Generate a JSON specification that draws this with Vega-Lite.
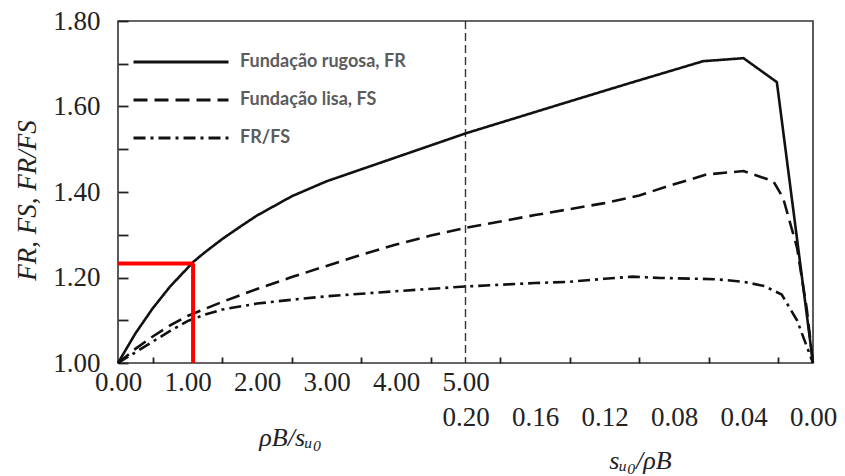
{
  "$schema": "https://vega.github.io/schema/vega-lite/v6.json",
  "width": 695,
  "height": 342,
  "autosize": {"type": "none"},
  "padding": {"left": 118, "top": 21, "right": 32, "bottom": 113},
  "background": "white",
  "config": {
    "view": {"stroke": "#333333", "strokeWidth": 1.6},
    "axis": {
      "grid": true,
      "gridColor": "#222222",
      "gridWidth": 1.8,
      "gridOpacity": 1,
      "domain": false,
      "ticks": false,
      "labelFont": "Liberation Serif",
      "labelFontSize": 27,
      "labelColor": "#222222",
      "labelOverlap": false,
      "labelFlush": false,
      "titleFont": "Liberation Serif",
      "titleFontSize": 27,
      "titleFontWeight": "normal",
      "titleFontStyle": "italic",
      "titleColor": "#222222"
    }
  },
  "datasets": {
    "curves": [
      {"u": 0, "v": 1.0, "series": "Fundação rugosa, FR"},
      {"u": 0.25, "v": 1.069, "series": "Fundação rugosa, FR"},
      {"u": 0.5, "v": 1.128, "series": "Fundação rugosa, FR"},
      {"u": 0.75, "v": 1.179, "series": "Fundação rugosa, FR"},
      {"u": 1.0, "v": 1.222, "series": "Fundação rugosa, FR"},
      {"u": 1.08, "v": 1.236, "series": "Fundação rugosa, FR"},
      {"u": 1.25, "v": 1.259, "series": "Fundação rugosa, FR"},
      {"u": 1.5, "v": 1.29, "series": "Fundação rugosa, FR"},
      {"u": 1.75, "v": 1.318, "series": "Fundação rugosa, FR"},
      {"u": 2.0, "v": 1.345, "series": "Fundação rugosa, FR"},
      {"u": 2.5, "v": 1.39, "series": "Fundação rugosa, FR"},
      {"u": 3.0, "v": 1.425, "series": "Fundação rugosa, FR"},
      {"u": 3.5, "v": 1.453, "series": "Fundação rugosa, FR"},
      {"u": 4.0, "v": 1.481, "series": "Fundação rugosa, FR"},
      {"u": 4.5, "v": 1.509, "series": "Fundação rugosa, FR"},
      {"u": 5.0, "v": 1.537, "series": "Fundação rugosa, FR"},
      {"u": 6.46, "v": 1.61, "series": "Fundação rugosa, FR"},
      {"u": 7.41, "v": 1.657, "series": "Fundação rugosa, FR"},
      {"u": 8.42, "v": 1.706, "series": "Fundação rugosa, FR"},
      {"u": 9.0, "v": 1.713, "series": "Fundação rugosa, FR"},
      {"u": 9.48, "v": 1.657, "series": "Fundação rugosa, FR"},
      {"u": 10, "v": 1.0, "series": "Fundação rugosa, FR"},
      {"u": 0, "v": 1.0, "series": "Fundação lisa, FS"},
      {"u": 0.25, "v": 1.033, "series": "Fundação lisa, FS"},
      {"u": 0.5, "v": 1.062, "series": "Fundação lisa, FS"},
      {"u": 0.75, "v": 1.088, "series": "Fundação lisa, FS"},
      {"u": 1.0, "v": 1.11, "series": "Fundação lisa, FS"},
      {"u": 1.5, "v": 1.143, "series": "Fundação lisa, FS"},
      {"u": 2.0, "v": 1.173, "series": "Fundação lisa, FS"},
      {"u": 2.5, "v": 1.201, "series": "Fundação lisa, FS"},
      {"u": 3.0, "v": 1.227, "series": "Fundação lisa, FS"},
      {"u": 3.5, "v": 1.253, "series": "Fundação lisa, FS"},
      {"u": 4.0, "v": 1.277, "series": "Fundação lisa, FS"},
      {"u": 4.5, "v": 1.298, "series": "Fundação lisa, FS"},
      {"u": 5.0, "v": 1.316, "series": "Fundação lisa, FS"},
      {"u": 6.0, "v": 1.346, "series": "Fundação lisa, FS"},
      {"u": 7.0, "v": 1.374, "series": "Fundação lisa, FS"},
      {"u": 7.5, "v": 1.392, "series": "Fundação lisa, FS"},
      {"u": 8.0, "v": 1.418, "series": "Fundação lisa, FS"},
      {"u": 8.47, "v": 1.441, "series": "Fundação lisa, FS"},
      {"u": 9.0, "v": 1.449, "series": "Fundação lisa, FS"},
      {"u": 9.43, "v": 1.425, "series": "Fundação lisa, FS"},
      {"u": 9.57, "v": 1.386, "series": "Fundação lisa, FS"},
      {"u": 9.77, "v": 1.27, "series": "Fundação lisa, FS"},
      {"u": 9.91, "v": 1.127, "series": "Fundação lisa, FS"},
      {"u": 10, "v": 1.0, "series": "Fundação lisa, FS"},
      {"u": 0, "v": 1.0, "series": "FR/FS"},
      {"u": 0.25, "v": 1.025, "series": "FR/FS"},
      {"u": 0.5, "v": 1.05, "series": "FR/FS"},
      {"u": 0.75, "v": 1.075, "series": "FR/FS"},
      {"u": 1.0, "v": 1.098, "series": "FR/FS"},
      {"u": 1.25, "v": 1.113, "series": "FR/FS"},
      {"u": 1.5, "v": 1.125, "series": "FR/FS"},
      {"u": 2.0, "v": 1.139, "series": "FR/FS"},
      {"u": 2.5, "v": 1.148, "series": "FR/FS"},
      {"u": 3.0, "v": 1.156, "series": "FR/FS"},
      {"u": 4.0, "v": 1.168, "series": "FR/FS"},
      {"u": 5.0, "v": 1.179, "series": "FR/FS"},
      {"u": 6.0, "v": 1.187, "series": "FR/FS"},
      {"u": 6.5, "v": 1.19, "series": "FR/FS"},
      {"u": 7.0, "v": 1.197, "series": "FR/FS"},
      {"u": 7.4, "v": 1.202, "series": "FR/FS"},
      {"u": 7.8, "v": 1.199, "series": "FR/FS"},
      {"u": 8.6, "v": 1.196, "series": "FR/FS"},
      {"u": 9.0, "v": 1.19, "series": "FR/FS"},
      {"u": 9.3, "v": 1.18, "series": "FR/FS"},
      {"u": 9.55, "v": 1.16, "series": "FR/FS"},
      {"u": 9.77, "v": 1.1, "series": "FR/FS"},
      {"u": 10, "v": 1.0, "series": "FR/FS"}
    ],
    "divider": [{"u": 5}],
    "redH": [{"u": 0, "u2": 1.08, "v": 1.233}],
    "redV": [{"u": 1.08, "v": 1.0, "v2": 1.233}]
  },
  "resolve": {"axis": {"x": "independent", "y": "independent"}},
  "layer": [
    {
      "data": {"name": "divider"},
      "mark": {"type": "rule", "color": "#333333", "strokeWidth": 1.4, "strokeDash": [8, 4]},
      "encoding": {
        "x": {
          "field": "u", "type": "quantitative",
          "scale": {"domain": [0, 10], "nice": false, "zero": false},
          "axis": {
            "orient": "bottom",
            "values": [0.5, 1.5, 2.5, 3.5, 4.5, 5.5, 6.5, 7.5, 8.5, 9.5],
            "gridDash": [6, 2000],
            "labels": false,
            "title": "sᵤ₀/ρB",
            "titleFontSize": 26,
            "titleX": 522,
            "titleY": 97,
            "titleAlign": "center",
            "titleBaseline": "middle"
          }
        }
      }
    },
    {
      "data": {"name": "curves"},
      "mark": {"type": "line", "color": "#111111", "strokeWidth": 2.6, "interpolate": "linear"},
      "encoding": {
        "x": {
          "field": "u", "type": "quantitative",
          "scale": {"domain": [0, 10], "nice": false, "zero": false},
          "axis": {
            "orient": "bottom",
            "values": [0, 1, 2, 3, 4, 5, 6, 7, 8, 9, 10],
            "gridDash": [11, 2000],
            "labelPadding": 6,
            "labelLineHeight": 35,
            "labelExpr": "datum.value < 5 ? format(datum.value, '.2f') : datum.value == 5 ? ['5.00', '0.20'] : ['', format((10 - datum.value) * 0.04, '.2f')]",
            "title": "ρB/sᵤ₀",
            "titleFontSize": 26,
            "titleX": 172,
            "titleY": 74,
            "titleAlign": "center",
            "titleBaseline": "middle"
          }
        },
        "y": {
          "field": "v", "type": "quantitative",
          "scale": {"domain": [1.0, 1.8], "nice": false, "zero": false},
          "axis": {
            "orient": "left",
            "values": [1.0, 1.1, 1.2, 1.3, 1.4, 1.5, 1.6, 1.7, 1.8],
            "gridDash": [10, 2000],
            "labelPadding": 18,
            "labelExpr": "round(datum.value * 10) % 2 == 0 ? format(datum.value, '.2f') : ''",
            "title": "FR, FS, FR/FS",
            "titleX": -91,
            "titleY": 179,
            "titleAngle": -90,
            "titleAlign": "center",
            "titleBaseline": "middle"
          }
        },
        "detail": {"field": "series"},
        "strokeDash": {
          "field": "series", "type": "nominal",
          "scale": {
            "domain": ["Fundação rugosa, FR", "Fundação lisa, FS", "FR/FS"],
            "range": [[1, 0], [14, 7], [12, 5, 3, 5]]
          },
          "legend": {
            "title": null,
            "orient": "none",
            "legendX": 14,
            "legendY": 22,
            "padding": 0,
            "rowPadding": 0,
            "clipHeight": 38,
            "symbolType": "stroke",
            "symbolSize": 9025,
            "symbolStrokeWidth": 3,
            "symbolStrokeColor": "#111111",
            "labelFont": "Lato",
            "labelFontSize": 18,
            "labelFontWeight": "bold",
            "labelColor": "#5c5c5c",
            "labelOffset": 10,
            "labelLimit": 400
          }
        }
      }
    },
    {
      "data": {"name": "redH"},
      "mark": {"type": "rule", "color": "#ff0000", "strokeWidth": 4},
      "encoding": {
        "x": {
          "field": "u", "type": "quantitative",
          "scale": {"domain": [0, 10], "nice": false, "zero": false},
          "axis": {
            "orient": "top",
            "values": [0, 1, 2, 3, 4, 5, 6, 7, 8, 9, 10],
            "gridDash": [12, 2000],
            "labels": false,
            "title": null
          }
        },
        "x2": {"field": "u2"},
        "y": {
          "field": "v", "type": "quantitative",
          "scale": {"domain": [1.0, 1.8], "nice": false, "zero": false},
          "axis": {
            "orient": "right",
            "values": [1.0, 1.1, 1.2, 1.3, 1.4, 1.5, 1.6, 1.7, 1.8],
            "gridDash": [8, 2000],
            "labels": false,
            "title": null
          }
        }
      }
    },
    {
      "data": {"name": "redV"},
      "mark": {"type": "rule", "color": "#ff0000", "strokeWidth": 4},
      "encoding": {
        "x": {
          "field": "u", "type": "quantitative",
          "scale": {"domain": [0, 10], "nice": false, "zero": false},
          "axis": {
            "orient": "top",
            "values": [0.5, 1.5, 2.5, 3.5, 4.5, 5.5, 6.5, 7.5, 8.5, 9.5],
            "gridDash": [7, 2000],
            "labels": false,
            "title": null
          }
        },
        "y": {
          "field": "v", "type": "quantitative",
          "scale": {"domain": [1.0, 1.8], "nice": false, "zero": false},
          "axis": null
        },
        "y2": {"field": "v2"}
      }
    }
  ]
}
